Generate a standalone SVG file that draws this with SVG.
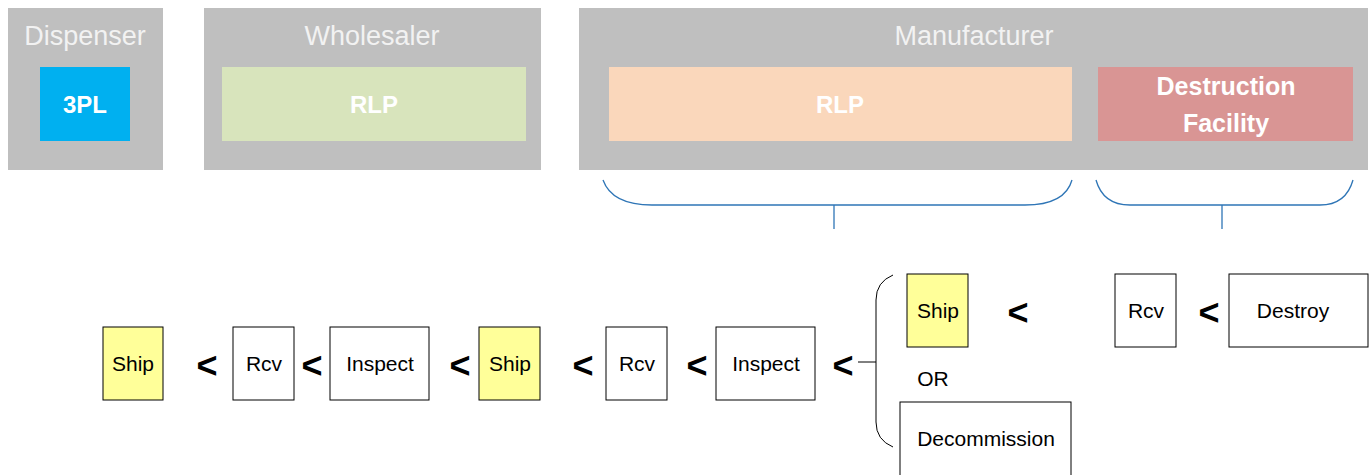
<svg xmlns="http://www.w3.org/2000/svg" width="1370" height="475" viewBox="0 0 1370 475">
<style>
.grp{fill:#bfbfbf}
.hdr{font-family:"Liberation Sans",Arial,sans-serif;font-size:27px;fill:#f2f2f2;text-anchor:middle}
.bl{font-family:"Liberation Sans",Arial,sans-serif;font-weight:bold;font-size:24px;fill:#ffffff;text-anchor:middle}
.box{fill:#ffffff;stroke:#000000;stroke-width:1}
.ship{fill:#ffff99;stroke:#000000;stroke-width:1}
.lbl{font-family:"Liberation Sans",Arial,sans-serif;font-size:21px;fill:#000000;text-anchor:middle}
.lt{font-family:"Liberation Sans",Arial,sans-serif;font-weight:bold;font-size:36px;fill:#000000;text-anchor:middle}
.brace{fill:none;stroke:#2e75b6;stroke-width:1.3}
.lbrace{fill:none;stroke:#000000;stroke-width:1}
</style>
<rect width="1370" height="475" fill="#ffffff"/>
<g id="dispenser">
<rect class="grp" x="8" y="8" width="155" height="162"/>
<text class="hdr" x="85" y="45">Dispenser</text>
<rect x="40" y="67" width="90" height="74" fill="#00b0f0"/>
<text class="bl" x="85" y="113">3PL</text>
</g>
<g id="wholesaler">
<rect class="grp" x="204" y="8" width="337" height="162"/>
<text class="hdr" x="372" y="45">Wholesaler</text>
<rect x="222" y="67" width="304" height="74" fill="#d8e4bc"/>
<text class="bl" x="374" y="113">RLP</text>
</g>
<g id="manufacturer">
<rect class="grp" x="579" y="8" width="789" height="162"/>
<text class="hdr" x="974" y="45">Manufacturer</text>
<rect x="609" y="67" width="463" height="74" fill="#fad7bb"/>
<text class="bl" x="840" y="113">RLP</text>
<rect x="1098" y="67" width="255" height="74" fill="#d99594"/>
<text class="bl" x="1226" y="95" style="font-size:25px">Destruction</text>
<text class="bl" x="1226" y="132" style="font-size:25px">Facility</text>
</g>
<g id="connectors">
<path class="brace" d="M603,180 Q612,205 652,205 L1025,205 Q1065,205 1072,180"/>
<line class="brace" x1="834" y1="205" x2="834" y2="229"/>
<path class="brace" d="M1096,180 Q1103,205 1130,205 L1320,205 Q1346,205 1353,180"/>
<line class="brace" x1="1222" y1="205" x2="1222" y2="229"/>
<path class="lbrace" d="M893,275 Q876,282 876,300 L876,422 Q876,440 893,447"/>
<line class="lbrace" x1="858" y1="362" x2="876" y2="362"/>
<text class="lt" x="207" y="378">&lt;</text>
<text class="lt" x="312" y="378">&lt;</text>
<text class="lt" x="460" y="378">&lt;</text>
<text class="lt" x="583" y="378">&lt;</text>
<text class="lt" x="697" y="378">&lt;</text>
<text class="lt" x="843" y="378">&lt;</text>
<text class="lt" x="1018" y="325">&lt;</text>
<text class="lt" x="1209" y="325">&lt;</text>
</g>
<g id="ship1"><rect class="ship" x="103" y="327" width="60" height="73"/><text class="lbl" x="133" y="371">Ship</text></g>
<g id="rcv1"><rect class="box" x="233" y="327" width="61" height="73"/><text class="lbl" x="264" y="371">Rcv</text></g>
<g id="inspect1"><rect class="box" x="330" y="327" width="99" height="73"/><text class="lbl" x="380" y="371">Inspect</text></g>
<g id="ship2"><rect class="ship" x="479" y="327" width="61" height="73"/><text class="lbl" x="510" y="371">Ship</text></g>
<g id="rcv2"><rect class="box" x="606" y="327" width="61" height="73"/><text class="lbl" x="637" y="371">Rcv</text></g>
<g id="inspect2"><rect class="box" x="716" y="327" width="99" height="73"/><text class="lbl" x="766" y="371">Inspect</text></g>
<g id="ship3"><rect class="ship" x="907" y="274" width="61" height="73"/><text class="lbl" x="938" y="318">Ship</text></g>
<g id="or"><text class="lbl" x="933" y="386">OR</text></g>
<g id="decommission"><rect class="box" x="900" y="402" width="171" height="74"/><text class="lbl" x="986" y="446">Decommission</text></g>
<g id="rcv3"><rect class="box" x="1115" y="274" width="61" height="73"/><text class="lbl" x="1146" y="318">Rcv</text></g>
<g id="destroy"><rect class="box" x="1229" y="274" width="139" height="73"/><text class="lbl" x="1293" y="318">Destroy</text></g>
</svg>
